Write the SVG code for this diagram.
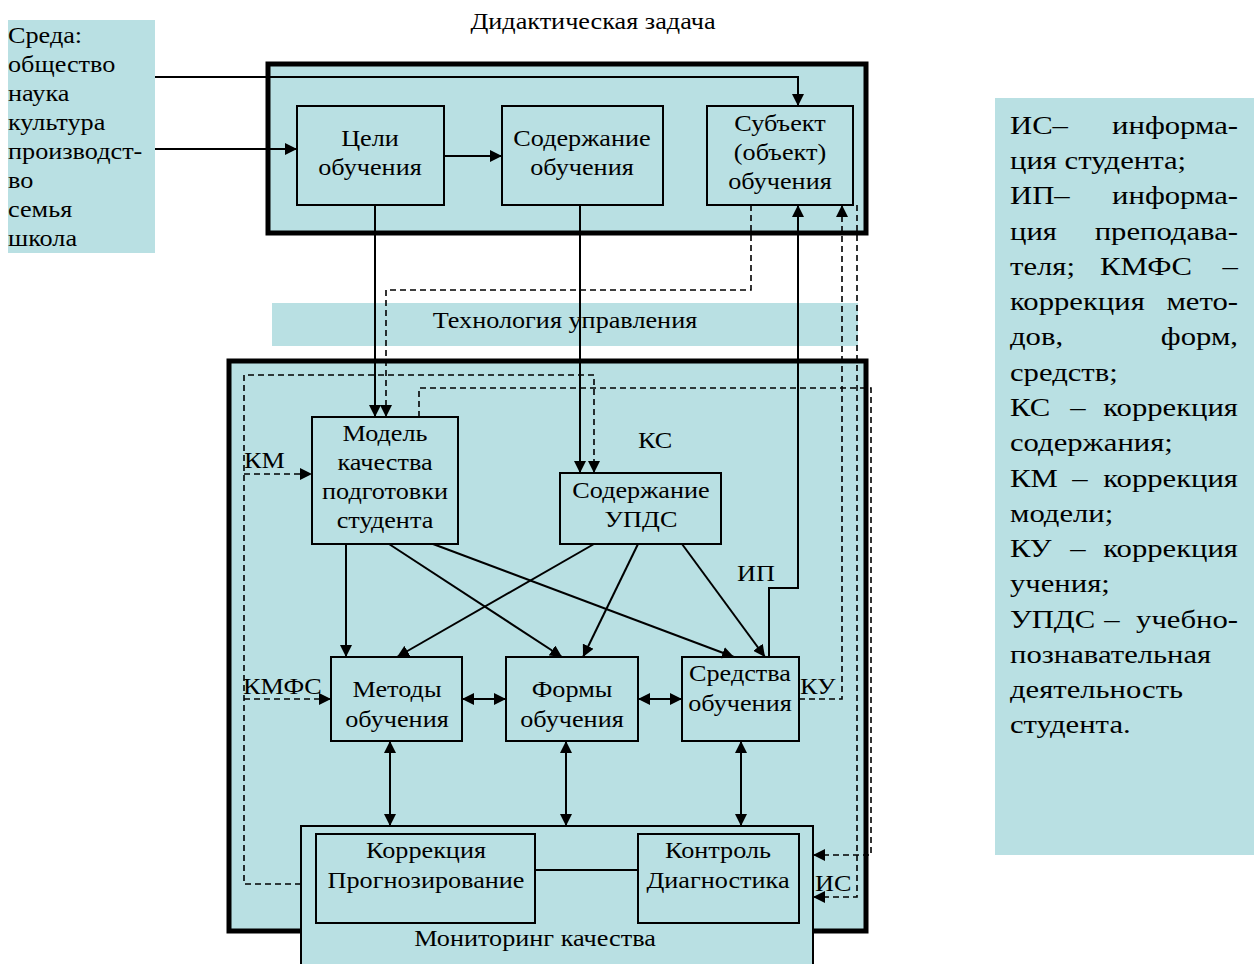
<svg xmlns="http://www.w3.org/2000/svg" width="1254" height="964" viewBox="0 0 1254 964">
<defs>
<style>
text{transform-box:fill-box;transform-origin:left center}
.t{font-family:"Liberation Serif","Times New Roman",serif;font-size:23px;fill:#000;transform:scaleX(1.14)}
.lg{font-family:"Liberation Serif","Times New Roman",serif;font-size:26px;fill:#000;transform:scaleX(1.18)}
.c{text-anchor:middle;transform-origin:center}
.e{text-anchor:end;transform-origin:right center}
.bg{fill:#b9e0e3}
.box{fill:#b9e0e3;stroke:#000;stroke-width:2}
.frame{fill:#b9e0e3;stroke:#000;stroke-width:5}
.ln{fill:none;stroke:#000;stroke-width:2}
.ds{fill:none;stroke:#000;stroke-width:1.6;stroke-dasharray:6,4}
.a{marker-end:url(#ah)}
.aa{marker-end:url(#ah);marker-start:url(#ahs)}
</style>
<marker id="ah" markerUnits="userSpaceOnUse" markerWidth="13" markerHeight="12" refX="12" refY="6" orient="auto"><path d="M0,0 L12,6 L0,12 z" fill="#000"/></marker>
<marker id="ahs" markerUnits="userSpaceOnUse" markerWidth="13" markerHeight="12" refX="12" refY="6" orient="auto-start-reverse"><path d="M0,0 L12,6 L0,12 z" fill="#000"/></marker>
</defs>
<rect width="1254" height="964" fill="#fff"/>

<g id="title"><text class="t c" x="593" y="29">Дидактическая задача</text></g>

<g id="sreda">
<rect class="bg" x="8" y="20" width="147" height="233"/>
<text class="t" x="8" y="43">Среда:</text>
<text class="t" x="8" y="72">общество</text>
<text class="t" x="8" y="101">наука</text>
<text class="t" x="8" y="130">культура</text>
<text class="t" x="8" y="159">производст-</text>
<text class="t" x="8" y="188">во</text>
<text class="t" x="8" y="217">семья</text>
<text class="t" x="8" y="246">школа</text>
</g>

<g id="top-frame"><rect class="frame" x="268" y="64" width="598" height="169"/></g>
<g id="bottom-frame"><rect class="frame" x="229" y="361" width="637" height="570"/></g>

<g id="tech-band">
<rect class="bg" x="272" y="303" width="586" height="43"/>
<text class="t c" x="565" y="328">Технология управления</text>
</g>

<g id="celi"><rect class="box" x="297" y="106" width="147" height="99"/>
<text class="t c" x="370" y="146">Цели</text><text class="t c" x="370" y="175">обучения</text></g>
<g id="soderzhanie"><rect class="box" x="502" y="106" width="161" height="99"/>
<text class="t c" x="582" y="146">Содержание</text><text class="t c" x="582" y="175">обучения</text></g>
<g id="subject"><rect class="box" x="707" y="106" width="146" height="99"/>
<text class="t c" x="780" y="131">Субъект</text><text class="t c" x="780" y="160">(объект)</text><text class="t c" x="780" y="189">обучения</text></g>

<g id="model"><rect class="box" x="312" y="417" width="146" height="127"/>
<text class="t c" x="385" y="441">Модель</text><text class="t c" x="385" y="470">качества</text><text class="t c" x="385" y="499">подготовки</text><text class="t c" x="385" y="528">студента</text></g>
<g id="updc"><rect class="box" x="560" y="473" width="161" height="71"/>
<text class="t c" x="641" y="498">Содержание</text><text class="t c" x="641" y="527">УПДС</text></g>
<g id="metody"><rect class="box" x="331" y="657" width="131" height="84"/>
<text class="t c" x="397" y="697">Методы</text><text class="t c" x="397" y="727">обучения</text></g>
<g id="formy"><rect class="box" x="506" y="657" width="132" height="84"/>
<text class="t c" x="572" y="697">Формы</text><text class="t c" x="572" y="727">обучения</text></g>
<g id="sredstva"><rect class="box" x="682" y="657" width="117" height="84"/>
<text class="t c" x="740" y="681">Средства</text><text class="t c" x="740" y="711">обучения</text></g>

<g id="monitoring"><rect class="box" x="301" y="826" width="512" height="150"/>
<text class="t c" x="535" y="946">Мониторинг качества</text></g>
<g id="korrekciya"><rect class="box" x="316" y="834" width="219" height="89"/>
<text class="t c" x="426" y="858">Коррекция</text><text class="t c" x="426" y="888">Прогнозирование</text></g>
<g id="kontrol"><rect class="box" x="638" y="834" width="161" height="89"/>
<text class="t c" x="718" y="858">Контроль</text><text class="t c" x="718" y="888">Диагностика</text></g>

<g id="connectors">
<polyline class="ln a" points="155,77 798,77 798,106"/>
<line class="ln a" x1="155" y1="149" x2="297" y2="149"/>
<line class="ln a" x1="444" y1="156" x2="502" y2="156"/>
<line class="ln a" x1="375" y1="205" x2="375" y2="417"/>
<line class="ln a" x1="580" y1="205" x2="580" y2="473"/>
<polyline class="ds a" points="751,205 751,290 386,290 386,417"/>
<polyline class="ds a" points="301,884 244,884 244,375 594,375 594,473"/>
<line class="ds a" x1="244" y1="474" x2="312" y2="474"/>
<line class="ds a" x1="244" y1="699" x2="331" y2="699"/>
<polyline class="ds a" points="419,417 419,388 871,388 871,855 813,855"/>
<polyline class="ds a" points="799,699 842,699 842,205"/>
<polyline class="ds a" points="857,205 857,897 813,897"/>
<polyline class="ln a" points="769,657 769,588 798,588 798,205"/>
<line class="ln a" x1="346" y1="544" x2="346" y2="657"/>
<line class="ln a" x1="389" y1="544" x2="562" y2="657"/>
<line class="ln a" x1="433" y1="544" x2="734" y2="657"/>
<line class="ln a" x1="594" y1="544" x2="397" y2="657"/>
<line class="ln a" x1="638" y1="544" x2="583" y2="657"/>
<line class="ln a" x1="682" y1="544" x2="765" y2="657"/>
<line class="ln aa" x1="462" y1="699" x2="506" y2="699"/>
<line class="ln aa" x1="638" y1="699" x2="682" y2="699"/>
<line class="ln aa" x1="390" y1="741" x2="390" y2="826"/>
<line class="ln aa" x1="566" y1="741" x2="566" y2="826"/>
<line class="ln aa" x1="741" y1="741" x2="741" y2="826"/>
<line class="ln" x1="535" y1="870" x2="638" y2="870"/>
</g>

<g id="labels">
<text class="t" x="638" y="448">КС</text>
<text class="t" x="244" y="468">КМ</text>
<text class="t" x="737" y="581">ИП</text>
<text class="t" x="243" y="694">КМФС</text>
<text class="t" x="800" y="694">КУ</text>
<text class="t" x="815" y="891">ИС</text>
</g>

<g id="legend">
<rect class="bg" x="995" y="98" width="259" height="757"/>
<text class="lg" x="1010" y="134">ИС–</text><text class="lg e" x="1238" y="134">информа-</text>
<text class="lg" x="1010" y="169">ция студента;</text>
<text class="lg" x="1010" y="204">ИП–</text><text class="lg e" x="1238" y="204">информа-</text>
<text class="lg" x="1010" y="240">ция</text><text class="lg e" x="1238" y="240">преподава-</text>
<text class="lg" x="1010" y="275">теля;</text><text class="lg c" x="1146" y="275">КМФС</text><text class="lg e" x="1238" y="275">–</text>
<text class="lg" x="1010" y="310">коррекция</text><text class="lg e" x="1238" y="310">мето-</text>
<text class="lg" x="1010" y="345">дов,</text><text class="lg e" x="1238" y="345">форм,</text>
<text class="lg" x="1010" y="381">средств;</text>
<text class="lg" x="1010" y="416">КС</text><text class="lg c" x="1078" y="416">–</text><text class="lg e" x="1238" y="416">коррекция</text>
<text class="lg" x="1010" y="451">содержания;</text>
<text class="lg" x="1010" y="487">КМ</text><text class="lg c" x="1080" y="487">–</text><text class="lg e" x="1238" y="487">коррекция</text>
<text class="lg" x="1010" y="522">модели;</text>
<text class="lg" x="1010" y="557">КУ</text><text class="lg c" x="1078" y="557">–</text><text class="lg e" x="1238" y="557">коррекция</text>
<text class="lg" x="1010" y="592">учения;</text>
<text class="lg" x="1010" y="628">УПДС</text><text class="lg c" x="1112" y="628">–</text><text class="lg e" x="1238" y="628">учебно-</text>
<text class="lg" x="1010" y="663">познавательная</text>
<text class="lg" x="1010" y="698">деятельность</text>
<text class="lg" x="1010" y="733">студента.</text>
</g>
</svg>
